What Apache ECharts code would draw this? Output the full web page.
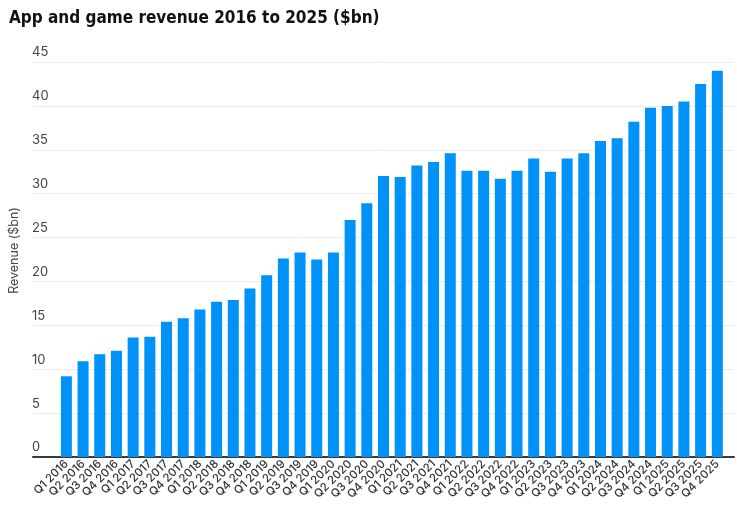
<!DOCTYPE html>
<html>
<head>
<meta charset="utf-8">
<script src="https://cdn.jsdelivr.net/npm/echarts@6/dist/echarts.min.js"></script>
<style>
  html, body { margin: 0; padding: 0; background: #fff; }
  #chart { width: 737px; height: 515px; }
</style>
</head>
<body>
<div id="chart"></div>
<script>
// quarters, Q1 2016 .. Q4 2025
const quarters = [
  'Q1 2016', 'Q2 2016', 'Q3 2016', 'Q4 2016',
  'Q1 2017', 'Q2 2017', 'Q3 2017', 'Q4 2017',
  'Q1 2018', 'Q2 2018', 'Q3 2018', 'Q4 2018',
  'Q1 2019', 'Q2 2019', 'Q3 2019', 'Q4 2019',
  'Q1 2020', 'Q2 2020', 'Q3 2020', 'Q4 2020',
  'Q1 2021', 'Q2 2021', 'Q3 2021', 'Q4 2021',
  'Q1 2022', 'Q2 2022', 'Q3 2022', 'Q4 2022',
  'Q1 2023', 'Q2 2023', 'Q3 2023', 'Q4 2023',
  'Q1 2024', 'Q2 2024', 'Q3 2024', 'Q4 2024',
  'Q1 2025', 'Q2 2025', 'Q3 2025', 'Q4 2025'
]
// revenue in $bn
const revenue = [
  9.2, 10.9, 11.7, 12.1,
  13.6, 13.7, 15.4, 15.8,
  16.8, 17.7, 17.9, 19.2,
  20.7, 22.6, 23.3, 22.5,
  23.3, 27.0, 28.9, 32.0,
  31.9, 33.2, 33.6, 34.6,
  32.6, 32.6, 31.7, 32.6,
  34.0, 32.5, 34.0, 34.6,
  36.0, 36.3, 38.2, 39.8,
  40.0, 40.5, 42.5, 44.0
]
const yTicks = [0, 5, 10, 15, 20, 25, 30, 35, 40, 45]

const font = 'Inter'

const chart = echarts.init(document.getElementById('chart'))
chart.setOption({
  animation: false,
  title: {
    text: 'App and game revenue 2016 to 2025 ($bn)',
    left: 4,
    top: 5,
    textStyle: {
      fontFamily: '"DejaVu Sans Condensed", "Liberation Sans", sans-serif',
      fontWeight: 'bold',
      fontSize: 17,
      color: '#111'
    }
  },
  grid: {
    left: 33,
    right: 3,
    top: 62,
    bottom: 58
  },
  xAxis: {
    // value axis so the plot area reaches past the first/last bar
    type: 'value',
    min: -2,
    max: 40,
    interval: 1,
    splitLine: { show: false },
    axisTick: { show: false },
    axisLine: { lineStyle: { color: '#3a3a3a', width: 2 } },
    axisLabel: {
      rotate: 45,
      margin: 5,
      fontFamily: font,
      fontSize: 11.5,
      fontWeight: 500,
      color: '#333',
      formatter: v => quarters[v] || ''
    }
  },
  yAxis: {
    type: 'value',
    min: yTicks[0],
    max: yTicks[yTicks.length - 1],
    interval: 5,
    name: 'Revenue ($bn)',
    nameLocation: 'middle',
    nameGap: 7,
    nameTextStyle: {
      fontFamily: font,
      fontSize: 12.5,
      color: '#444',
      padding: [0, 0, 0, 18]
    },
    axisLine: { show: false },
    axisTick: { show: false },
    splitLine: { lineStyle: { color: '#ececec' } },
    axisLabel: {
      inside: true,
      margin: -1,
      verticalAlign: 'bottom',
      padding: [0, 0, 3, 0],
      fontFamily: font,
      fontSize: 13,
      color: '#444'
    }
  },
  series: [{
    type: 'bar',
    barWidth: 11,
    itemStyle: { color: '#0092f8' },
    data: revenue.map((v, i) => [i, v])
  }]
})
</script>
</body>
</html>
